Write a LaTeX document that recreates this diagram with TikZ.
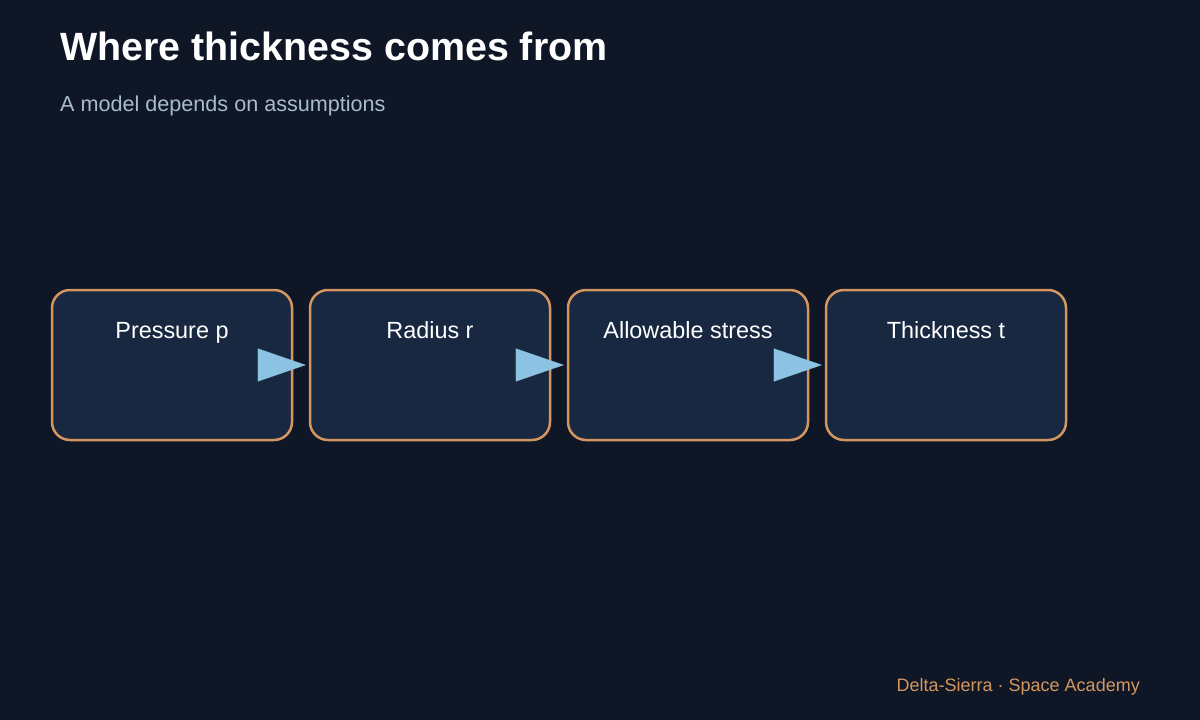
\documentclass[tikz,border=0pt]{standalone}
\usepackage{fontspec}
\setmainfont{Liberation Sans}
\usepackage{tikz}
\usetikzlibrary{arrows.meta}
\definecolor{bgdark}{HTML}{0F1727}
\definecolor{boxfill}{HTML}{182841}
\definecolor{boxedge}{HTML}{D39660}
\definecolor{arrowblue}{HTML}{8DC3E2}
\definecolor{subgrey}{HTML}{A7BBCF}
\tikzstyle{stage} = [rectangle, rounded corners=18pt, minimum width=240pt, inner sep=0pt, text height=48pt, text depth=102pt, text centered, draw=boxedge, line width=2.5pt, fill=boxfill, text=white, font=\fontsize{23.4}{27}\selectfont]
\tikzstyle{arrow} = [arrowblue, line width=0.1pt, -{Triangle[length=48pt, width=33pt]}]
\tikzstyle{caption} = [inner sep=0pt, anchor=base west]

\begin{document}
\begin{tikzpicture}[x=1pt, y=-1pt, node distance=258pt]
		\fill [bgdark] (0,0) rectangle (1200,720);
		
		\node (title) [caption, text=white, font=\bfseries\fontsize{39.4}{44}\selectfont] at (60,60) {Where thickness comes from};
		\node (sub) [caption, text=subgrey, font=\fontsize{21.6}{25}\selectfont] at (60,111) {A model depends on assumptions};
		
		\node (pres) [stage] at (172,365) {Pressure p};
		\node (rad) [stage, right of=pres] {Radius r};
		\node (allow) [stage, right of=rad] {Allowable stress};
		\node (thick) [stage, right of=allow] {Thickness t};
		
		\draw [arrow] ([xshift=-33pt]pres.east) -- ([xshift=-3pt]rad.west);
		\draw [arrow] ([xshift=-33pt]rad.east) -- ([xshift=-3pt]allow.west);
		\draw [arrow] ([xshift=-33pt]allow.east) -- ([xshift=-3pt]thick.west);
		
		\node (foot) [inner sep=0pt, anchor=base east, text=boxedge, font=\fontsize{18}{22}\selectfont] at (1140,691) {Delta-Sierra · Space Academy};
		
		\end{tikzpicture}
\end{document}
